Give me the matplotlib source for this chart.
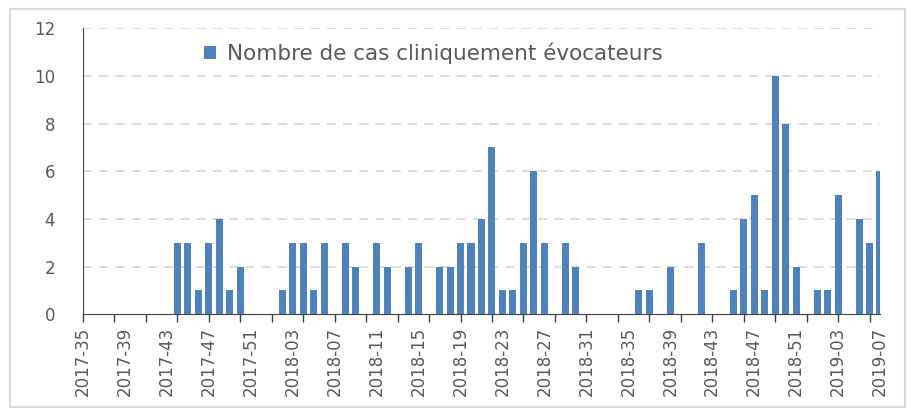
import matplotlib
matplotlib.use("Agg")
import matplotlib.pyplot as plt
from matplotlib.patches import Rectangle

# semaines ISO de 2017-35 a 2019-07 (2017 et 2018 ont 52 semaines)
semaines = (["2017-%02d" % s for s in range(35, 53)]
            + ["2018-%02d" % s for s in range(1, 53)]
            + ["2019-%02d" % s for s in range(1, 8)])

# nombre de cas par semaine
cas_2017 = [0, 0, 0, 0, 0, 0, 0, 0, 0, 3, 3, 1, 3, 4, 1, 2, 0, 0]
cas_2018 = [0, 1, 3, 3, 1, 3, 0, 3, 2, 0, 3, 2, 0, 2, 3, 0, 2, 2, 3, 3,
            4, 7, 1, 1, 3, 6, 3, 0, 3, 2, 0, 0, 0, 0, 0, 1, 1, 0, 2, 0,
            0, 3, 0, 0, 1, 4, 5, 1, 10, 8, 2, 0]
cas_2019 = [1, 1, 5, 0, 4, 3, 6]
cas = cas_2017 + cas_2018 + cas_2019

etiquette = "Nombre de cas cliniquement évocateurs"
bleu = "#4F81BD"
gris = "#595959"

plt.rcParams['font.family'] = ['DejaVu Sans']

fig = plt.figure(figsize=(9.14, 4.08), dpi=100)
ax = fig.add_axes([0.0908, 0.2297, 0.8720, 0.7009])

x = list(range(len(semaines)))
ax.bar(x, cas, width=0.67, color=bleu, label=etiquette, zorder=3)

ax.set_xlim(0, len(semaines) - 1)
ax.set_ylim(0, 12)
ax.set_yticks(range(0, 13, 2))
ax.tick_params(axis='y', length=0, labelsize=12, labelcolor=gris, pad=20)
for y in range(2, 13, 2):
    ax.axhline(y, color="#D9D9D9", linestyle=(0, (5, 4)), linewidth=1.3, zorder=1)

# graduations toutes les 3 semaines, etiquettes toutes les 4
ax.xaxis.remove_overlapping_locs = False
ax.set_xticks(x[::3])
ax.set_xticklabels([])
ax.set_xticks(x[::4], minor=True)
ax.set_xticklabels(semaines[::4], minor=True, rotation=90)
ax.tick_params(axis='x', which='major', length=6, color="#404040", width=1)
ax.tick_params(axis='x', which='minor', length=0, labelsize=12,
               labelcolor=gris, pad=9)

for side in ['top', 'right']:
    ax.spines[side].set_visible(False)
ax.spines['left'].set_color("#404040")
ax.spines['bottom'].set_color("#404040")

ax.legend(loc='upper left', bbox_to_anchor=(0.133, 1.003), frameon=False,
          fontsize=15.5, labelcolor=gris, handlelength=0.55, handleheight=0.55,
          handletextpad=0.5, borderpad=0.2)

# cadre gris autour du graphique
fig.patches.append(Rectangle((10 / 914, 0.002), 895 / 914, 1 - 10 / 408,
                             transform=fig.transFigure, fill=False,
                             edgecolor="#D9D9D9", linewidth=1.5))

fig.savefig("out.png", dpi=100)
